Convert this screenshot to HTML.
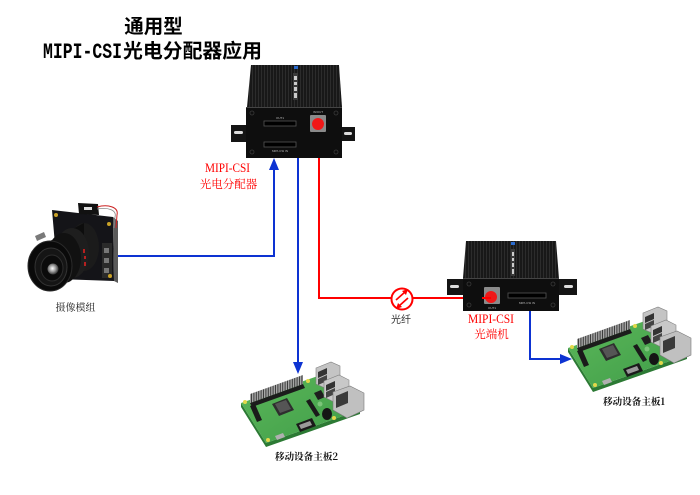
<!DOCTYPE html>
<html><head><meta charset="utf-8"><style>
html,body{margin:0;padding:0;background:#fff;}
svg{display:block;}
</style></head><body>
<svg width="700" height="495" viewBox="0 0 700 495" xmlns="http://www.w3.org/2000/svg">
<defs>
 <pattern id="fins" patternUnits="userSpaceOnUse" width="3" height="10"><rect width="3" height="10" fill="#181818"/><rect x="0" width="1" height="10" fill="#2c2c2c"/></pattern>
 <pattern id="pins" patternUnits="userSpaceOnUse" width="2.4" height="10"><rect width="2.4" height="10" fill="#a8a8a8"/><rect x="1.4" width="1" height="10" fill="#3a3a3a"/></pattern>
 <radialGradient id="glass" cx="0.45" cy="0.45" r="0.6"><stop offset="0" stop-color="#ffffff"/><stop offset="0.5" stop-color="#9a9a9a"/><stop offset="1" stop-color="#222"/></radialGradient>
 <linearGradient id="grn" x1="0" y1="0" x2="1" y2="1"><stop offset="0" stop-color="#5cb85a"/><stop offset="1" stop-color="#3f9c48"/></linearGradient>
 <g id="pi">
  <polygon points="241,403 266,443 360,410 360,414 266,447 241,407" fill="#2c7a34"/>
  <polygon points="241,403 335,370 360,410 266,443" fill="url(#grn)"/>
  <polygon points="250,403 303,384 305,388 252,407" fill="#1c1c1c"/>
  <polygon points="250,403 303,384 303,375 250,394" fill="url(#pins)"/>
  <polygon points="272,404 287,398 294,410 279,416" fill="#2e2e2e"/>
  <polygon points="275,404 286,400 291,409 280,413" fill="#555"/>
  <polygon points="314,393 321,390 325,397 318,400" fill="#1e1e1e"/>
  <polygon points="250,406 255,404 262,420 257,422" fill="#1a1a1a"/>
  <polygon points="306,401 310,399 320,415 316,417" fill="#1a1a1a"/>
  <polygon points="296,424 312,418 316,426 300,432" fill="#1a1a1a"/>
  <polygon points="299,425 310,421 312,425 301,429" fill="#9a9a9a"/>
  <polygon points="275,436 283,433 285,437 277,440" fill="#b0b0b0"/>
  <ellipse cx="327" cy="414" rx="5" ry="6" fill="#151515"/>
  <polygon points="316,368 331,362 340,366 340,381 325,388 316,384" fill="#c4c4c4" stroke="#808080" stroke-width="0.6"/>
  <polygon points="318,372 327,368 327,374 318,378" fill="#333"/>
  <polygon points="318,379 327,375 327,381 318,385" fill="#444"/>
  <polygon points="324,381 339,375 349,380 349,395 334,402 324,397" fill="#c8c8c8" stroke="#808080" stroke-width="0.6"/>
  <polygon points="326,385 335,381 335,387 326,391" fill="#333"/>
  <polygon points="326,392 335,388 335,394 326,398" fill="#444"/>
  <polygon points="333,392 350,386 364,393 364,410 347,418 333,410" fill="#c0c0c0" stroke="#7a7a7a" stroke-width="0.6"/>
  <polygon points="336,396 348,391 348,403 336,408" fill="#3a3a3a"/>
  <circle cx="245" cy="402" r="2" fill="#e3d84a"/>
  <circle cx="268" cy="440" r="2" fill="#e3d84a"/>
  <circle cx="308" cy="381" r="2" fill="#e3d84a"/>
  <circle cx="334" cy="418" r="2" fill="#e3d84a"/>
  <circle cx="320" cy="404" r="2.5" fill="#7cc47a"/>
 </g>
</defs>
<rect width="700" height="495" fill="#fff"/>

<!-- Title -->
<text x="153.5" y="33" text-anchor="middle" font-family="'Noto Sans CJK SC', sans-serif" font-weight="bold" font-size="19.5" fill="#000">通用型</text>
<text x="43" y="58" font-family="'Liberation Mono', monospace" font-weight="bold" font-size="22" textLength="79" lengthAdjust="spacingAndGlyphs" fill="#000">MIPI-CSI</text>
<text x="123" y="57.5" font-family="'Noto Sans CJK SC', sans-serif" font-weight="bold" font-size="19.5" textLength="139" lengthAdjust="spacingAndGlyphs" fill="#000">光电分配器应用</text>

<!-- Connectors -->
<g fill="none" stroke-width="2">
 <polyline points="114,256 274,256 274,168" stroke="#0d33d2"/>
 <line x1="298" y1="158" x2="298" y2="363" stroke="#0d33d2"/>
 <polyline points="530,310 530,359 561,359" stroke="#0d33d2"/>
 <polyline points="319,158 319,298 391,298" stroke="#ff0000"/>
 <line x1="413" y1="298" x2="490" y2="298" stroke="#ff0000"/>
</g>
<polygon points="274,158 269,170 279,170" fill="#0d33d2"/>
<polygon points="298,374 293,362 303,362" fill="#0d33d2"/>
<polygon points="572,359 560,354 560,364" fill="#0d33d2"/>

<!-- Fiber icon -->
<circle cx="402" cy="299" r="10.5" fill="#fff" stroke="#ff0000" stroke-width="2"/>
<g stroke="#ff0000" stroke-width="1.6" fill="#ff0000">
 <line x1="396" y1="300" x2="405" y2="292"/>
 <polygon points="408,289 402,291 406,295" stroke="none"/>
 <line x1="408" y1="298" x2="399" y2="306"/>
 <polygon points="396,309 402,307 398,303" stroke="none"/>
</g>
<text x="401" y="323" text-anchor="middle" font-family="'Noto Sans CJK SC', sans-serif" font-size="10" fill="#333">光纤</text>

<!-- Top device -->
<polygon points="231,125 247,125 247,142 231,142" fill="#141414"/>
<rect x="234" y="131" width="9" height="3" rx="1.5" fill="#ddd"/>
<polygon points="341,127 355,127 355,141 341,141" fill="#141414"/>
<rect x="344" y="132" width="8" height="3" rx="1.5" fill="#ddd"/>
<polygon points="251,65 339,65 342,107 247,107" fill="url(#fins)"/>
<rect x="293" y="73" width="5" height="27" fill="#3a3a3a"/>
<g fill="#ccc"><rect x="294" y="76" width="3" height="4"/><rect x="294" y="82" width="3" height="3"/><rect x="294" y="87" width="3" height="4"/><rect x="294" y="93" width="3" height="5"/></g>
<rect x="294" y="66" width="4" height="3" fill="#2a6acc"/>
<rect x="246" y="107" width="96" height="51" fill="#0e0e0e"/>
<line x1="246" y1="107.5" x2="342" y2="107.5" stroke="#444" stroke-width="1"/>
<g fill="none" stroke="#3a3a3a" stroke-width="0.8"><circle cx="252" cy="113" r="2"/><circle cx="336" cy="113" r="2"/><circle cx="252" cy="152" r="2"/><circle cx="336" cy="152" r="2"/></g>
<rect x="264" y="121" width="32" height="5" fill="#000" stroke="#555" stroke-width="0.8"/>
<rect x="264" y="142" width="32" height="5" fill="#000" stroke="#555" stroke-width="0.8"/>
<text x="280" y="119" text-anchor="middle" font-family="'Liberation Sans', sans-serif" font-size="3" fill="#bbb">OUT1</text>
<text x="280" y="152" text-anchor="middle" font-family="'Liberation Sans', sans-serif" font-size="3" fill="#bbb">MIPI-CSI IN</text>
<text x="318" y="113" text-anchor="middle" font-family="'Liberation Sans', sans-serif" font-size="3" fill="#bbb">IN/OUT</text>
<rect x="310" y="115" width="16" height="17" rx="1" fill="#8a8a8a"/>
<circle cx="318" cy="124" r="6" fill="#f01818"/>

<!-- Right device -->
<polygon points="447,279 463,279 463,295 447,295" fill="#141414"/>
<rect x="450" y="285" width="9" height="3" rx="1.5" fill="#ddd"/>
<polygon points="559,279 577,279 577,295 559,295" fill="#141414"/>
<rect x="564" y="285" width="9" height="3" rx="1.5" fill="#ddd"/>
<polygon points="466,241 556,241 559,278 463,278" fill="url(#fins)"/>
<rect x="511" y="249" width="4" height="27" fill="#3a3a3a"/>
<g fill="#ccc"><rect x="512" y="252" width="2" height="4"/><rect x="512" y="258" width="2" height="3"/><rect x="512" y="263" width="2" height="4"/><rect x="512" y="269" width="2" height="5"/></g>
<rect x="511" y="242" width="4" height="3" fill="#2a6acc"/>
<rect x="463" y="278" width="96" height="33" fill="#0e0e0e"/>
<line x1="463" y1="278.5" x2="559" y2="278.5" stroke="#444" stroke-width="1"/>
<g fill="none" stroke="#3a3a3a" stroke-width="0.8"><circle cx="469" cy="284" r="2"/><circle cx="553" cy="284" r="2"/><circle cx="469" cy="305" r="2"/><circle cx="553" cy="305" r="2"/></g>
<rect x="508" y="293" width="38" height="5" fill="#000" stroke="#555" stroke-width="0.8"/>
<text x="527" y="304" text-anchor="middle" font-family="'Liberation Sans', sans-serif" font-size="3" fill="#bbb">MIPI-CSI IN</text>
<text x="492" y="309" text-anchor="middle" font-family="'Liberation Sans', sans-serif" font-size="3" fill="#bbb">OUT1</text>
<rect x="484" y="287" width="16" height="17" rx="1" fill="#8a8a8a"/>
<circle cx="491" cy="297" r="6" fill="#f01818"/>
<line x1="482" y1="298" x2="491" y2="298" stroke="#ff0000" stroke-width="2"/>

<!-- Red labels -->
<text x="205" y="172" font-family="'Liberation Serif', serif" font-size="12.5" textLength="45" lengthAdjust="spacingAndGlyphs" fill="#ff0000">MIPI-CSI</text>
<text x="228.5" y="188" text-anchor="middle" font-family="'Noto Serif CJK SC', serif" font-size="11.5" fill="#ff0000">光电分配器</text>
<text x="468" y="323" font-family="'Liberation Serif', serif" font-size="12.5" textLength="46" lengthAdjust="spacingAndGlyphs" fill="#ff0000">MIPI-CSI</text>
<text x="491.5" y="338" text-anchor="middle" font-family="'Noto Serif CJK SC', serif" font-size="11.5" fill="#ff0000">光端机</text>

<!-- Camera -->
<g>
 <polygon points="52,210 113,217 114,281 58,279" fill="#141418"/>
 <polygon points="113,217 118,221 118,283 114,281" fill="#5a5a5a"/>
 <rect x="102" y="243" width="10" height="35" fill="#2a2a2a"/>
 <rect x="104" y="248" width="5" height="5" fill="#777"/>
 <rect x="104" y="258" width="5" height="5" fill="#777"/>
 <rect x="104" y="268" width="5" height="5" fill="#777"/>
 <polygon points="78,203 98,204 99,215 79,214" fill="#111"/>
 <rect x="84" y="207" width="8" height="3" fill="#ddd"/>
 <path d="M97,207 C108,204 119,207 117,215 L116,228" stroke="#cc2222" fill="none" stroke-width="1"/>
 <path d="M97,209 C108,207 117,210 115,217 L114,228" stroke="#888" fill="none" stroke-width="0.8"/>
 <g fill="#c9a227"><circle cx="56" cy="215" r="2"/><circle cx="109" cy="224" r="2"/><circle cx="110" cy="276" r="2"/><circle cx="62" cy="276" r="2"/></g>
 <ellipse cx="84" cy="247" rx="15" ry="24" fill="#1b1b1b"/>
 <polygon points="50,241 84,223 84,271 50,291" fill="#0d0d0d"/>
 <ellipse cx="72" cy="253" rx="17" ry="25" fill="#1e1e1e"/>
 <ellipse cx="64" cy="258" rx="17" ry="25" fill="#111"/>
 <g fill="#b52020"><rect x="83" y="249" width="2" height="4"/><rect x="84" y="256" width="2" height="3"/><rect x="84" y="262" width="2" height="4"/></g>
 <ellipse cx="50" cy="266" rx="22" ry="25" fill="#0a0a0a" stroke="#2a2a2a" stroke-width="1"/>
 <ellipse cx="51" cy="267" rx="16" ry="19" fill="#151515" stroke="#333" stroke-width="1"/>
 <ellipse cx="52" cy="268" rx="11" ry="13" fill="#0b0b0b" stroke="#2d2d2d" stroke-width="1"/>
 <circle cx="53" cy="269" r="5.5" fill="url(#glass)"/>
 <polygon points="35,236 44,232 46,237 37,241" fill="#7a7a7a"/>
</g>
<text x="75.5" y="311" text-anchor="middle" font-family="'Noto Serif CJK SC', serif" font-size="10" fill="#222">摄像模组</text>

<!-- Raspberry Pis -->
<use href="#pi"/>
<use href="#pi" transform="translate(327,-55)"/>
<text x="306.5" y="460" text-anchor="middle" font-family="'Noto Serif CJK SC', serif" font-weight="bold" font-size="9.6" fill="#111">移动设备主板2</text>
<text x="634" y="405" text-anchor="middle" font-family="'Noto Serif CJK SC', serif" font-weight="bold" font-size="9.6" fill="#111">移动设备主板1</text>
</svg>
</body></html>
